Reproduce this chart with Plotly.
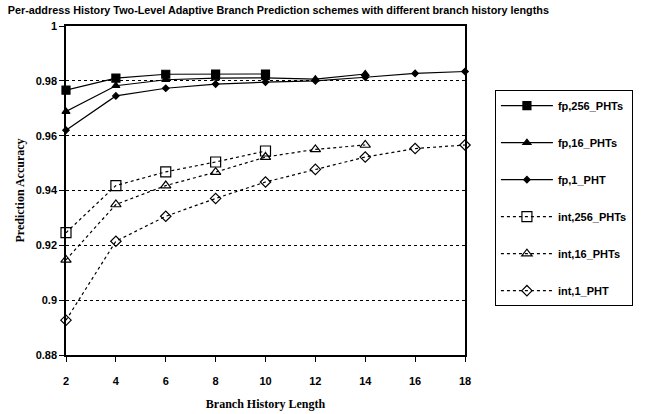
import plotly.graph_objects as go

hist = [2, 4, 6, 8, 10, 12, 14, 16, 18]

fp_256 = [0.9766, 0.9810, 0.9824, 0.9825, 0.9825]
fp_16 = [0.9688, 0.9782, 0.9804, 0.9810, 0.9811, 0.9806, 0.9825]
fp_1 = [0.9620, 0.9745, 0.9773, 0.9788, 0.9795, 0.9800, 0.9813, 0.9827, 0.9834]
int_256 = [0.9246, 0.9418, 0.9468, 0.9504, 0.9544]
int_16 = [0.9147, 0.9349, 0.9418, 0.9467, 0.9522, 0.9550, 0.9566]
int_1 = [0.8927, 0.9215, 0.9306, 0.9371, 0.9431, 0.9477, 0.9522, 0.9553, 0.9566]

names = ["fp,256_PHTs", "fp,16_PHTs", "fp,1_PHT", "int,256_PHTs", "int,16_PHTs", "int,1_PHT"]
series = [fp_256, fp_16, fp_1, int_256, int_16, int_1]
symbols = ["square", "triangle-up", "diamond", "square-open", "triangle-up-open", "diamond-open"]
sizes = [8, 7, 5, 10, 9, 8]
dashes = ["solid", "solid", "solid", "dot", "dot", "dot"]

fig = go.Figure()
for i, (nm, ys) in enumerate(zip(names, series)):
    fig.add_trace(go.Scatter(
        x=hist[:len(ys)], y=ys, name=nm, mode="lines+markers",
        line=dict(color="black", width=1.2, dash=dashes[i]),
        marker=dict(symbol=symbols[i], size=sizes[i], color="black",
                    line=dict(color="black", width=1.2)),
        legendgroup=nm, cliponaxis=False,
    ))

fig.update_layout(
    width=645, height=414,
    margin=dict(l=66, r=171, t=26, b=59),
    paper_bgcolor="white", plot_bgcolor="white",
    title=dict(text="Per-address History Two-Level Adaptive Branch Prediction schemes with different branch history lengths",
               x=0.012, xanchor="left", y=0.985, yanchor="top",
               font=dict(family="Liberation Sans", size=10.8, color="black", weight="bold")),
    legend=dict(x=1.075, xanchor="left", y=0.805, yanchor="top",
                bordercolor="black", borderwidth=1, bgcolor="white",
                tracegroupgap=18, itemwidth=52,
                font=dict(family="Liberation Sans", size=11, color="black", weight="bold")),
    xaxis=dict(range=[2, 18], tickvals=hist, ticks="outside", ticklen=5, tickcolor="black",
               showline=True, linecolor="black", linewidth=1.5, mirror=True,
               showgrid=False, zeroline=False, ticklabelstandoff=10, automargin=False,
               tickfont=dict(family="Liberation Sans", size=11, color="black", weight="bold"),
               title=dict(text="Branch History Length", standoff=14,
                          font=dict(family="Liberation Serif", size=12, color="black", weight="bold"))),
    yaxis=dict(range=[0.88, 1.0], dtick=0.02, ticks="outside", ticklen=5, tickcolor="black",
               showline=True, linecolor="black", linewidth=1.5, mirror=True,
               showgrid=True, gridcolor="black", gridwidth=1, griddash="dot", zeroline=False,
               automargin=False,
               tickfont=dict(family="Liberation Sans", size=11, color="black", weight="bold"),
               title=dict(text="Prediction Accuracy", standoff=8,
                          font=dict(family="Liberation Serif", size=12, color="black", weight="bold"))),
)

fig.write_html("out.html")
